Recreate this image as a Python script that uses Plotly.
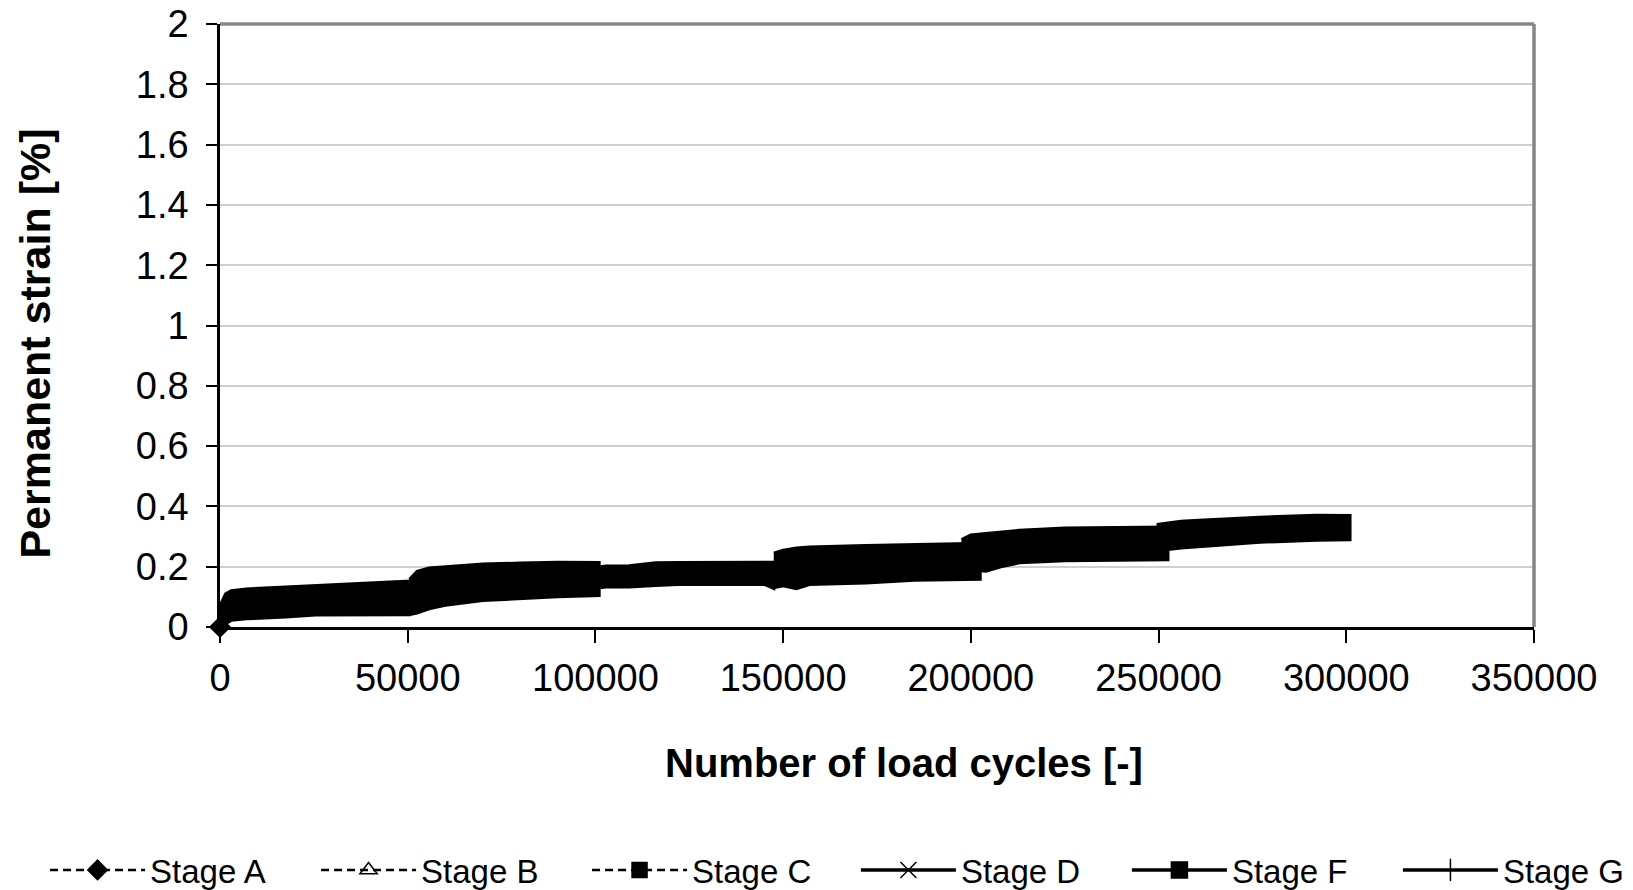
import plotly.graph_objects as go

# ---------------- data ----------------
stage_names = ["Stage A", "Stage B", "Stage C", "Stage D", "Stage F", "Stage G"]

# envelope of the dense marker band of each stage: cycles, upper and lower strain [%]
a_cycles = [0, 1500, 3000, 7000, 17500, 25500, 43000, 50500]
a_upper = [0.070, 0.110, 0.120, 0.126, 0.133, 0.138, 0.147, 0.152]
a_lower = [0.000, 0.012, 0.022, 0.027, 0.033, 0.040, 0.041, 0.041]
a_first_point = [0, 0.0]

b_cycles = [50500, 52500, 55700, 60000, 70000, 80000, 90000, 101000]
b_upper = [0.158, 0.185, 0.196, 0.200, 0.209, 0.212, 0.215, 0.214]
b_lower = [0.041, 0.046, 0.060, 0.072, 0.088, 0.095, 0.100, 0.104]

c_cycles = [101000, 103000, 109000, 116000, 122000, 135000, 145000, 147500]
c_upper = [0.200, 0.202, 0.203, 0.213, 0.214, 0.215, 0.215, 0.215]
c_lower = [0.130, 0.133, 0.133, 0.138, 0.141, 0.141, 0.141, 0.128]

d_cycles = [147500, 150000, 153500, 157000, 172000, 185000, 195000, 202500]
d_upper = [0.245, 0.255, 0.262, 0.265, 0.270, 0.273, 0.276, 0.278]
d_lower = [0.130, 0.137, 0.127, 0.141, 0.146, 0.155, 0.157, 0.158]

f_cycles = [197500, 200000, 204000, 208000, 213000, 225000, 240000, 252500]
f_upper = [0.290, 0.305, 0.310, 0.316, 0.321, 0.328, 0.330, 0.332]
f_lower = [0.200, 0.190, 0.185, 0.200, 0.213, 0.220, 0.222, 0.223]

g_cycles = [249500, 252500, 256000, 262000, 268000, 277000, 292000, 301000]
g_upper = [0.340, 0.345, 0.351, 0.355, 0.359, 0.364, 0.371, 0.370]
g_lower = [0.240, 0.257, 0.262, 0.268, 0.273, 0.281, 0.288, 0.289]

x_tick_values = [0, 50000, 100000, 150000, 200000, 250000, 300000, 350000]
x_tick_labels = ["0", "50000", "100000", "150000", "200000", "250000", "300000", "350000"]
y_tick_values = [0, 0.2, 0.4, 0.6, 0.8, 1.0, 1.2, 1.4, 1.6, 1.8, 2.0]
y_tick_labels = ["0", "0.2", "0.4", "0.6", "0.8", "1", "1.2", "1.4", "1.6", "1.8", "2"]

x_title = "Number of load cycles [-]"
y_title = "Permanent strain [%]"

# ---------------- styles ----------------
FONT = "Liberation Sans, Arial, sans-serif"
stage_envelopes = [
    (a_cycles, a_upper, a_lower),
    (b_cycles, b_upper, b_lower),
    (c_cycles, c_upper, c_lower),
    (d_cycles, d_upper, d_lower),
    (f_cycles, f_upper, f_lower),
    (g_cycles, g_upper, g_lower),
]
legend_styles = [
    dict(dash="8px,5px", width=2.5, symbol="diamond", size=15, legend="legend"),
    dict(dash="8px,5px", width=2.5, symbol="triangle-up-open", size=15, legend="legend"),
    dict(dash="8px,5px", width=2.5, symbol="square", size=15, legend="legend"),
    dict(dash="solid", width=3.5, symbol="x-thin-open", size=18, legend="legend2"),
    dict(dash="solid", width=3.5, symbol="square", size=17, legend="legend2"),
    dict(dash="solid", width=3.5, symbol="line-ns-open", size=24, legend="legend2"),
]

fig = go.Figure()

# dense data bands
for name, (cyc, up, lo) in zip(stage_names, stage_envelopes):
    fig.add_trace(go.Scatter(
        x=list(cyc) + list(cyc)[::-1],
        y=list(up) + list(lo)[::-1],
        mode="lines", fill="toself", fillcolor="black",
        line=dict(color="black", width=3),
        showlegend=False, hoverinfo="skip", name=name,
    ))

# first marker of stage A at the origin
fig.add_trace(go.Scatter(
    x=[a_first_point[0]], y=[a_first_point[1]], mode="markers",
    marker=dict(symbol="diamond", size=17, color="black"),
    cliponaxis=False, showlegend=False, hoverinfo="skip",
))

# legend entries
for name, st in zip(stage_names, legend_styles):
    fig.add_trace(go.Scatter(
        x=[None], y=[None], mode="lines+markers", name=name, legend=st["legend"],
        line=dict(color="black", width=st["width"], dash=st["dash"]),
        marker=dict(symbol=st["symbol"], size=st["size"], color="black",
                    line=dict(color="black", width=1.5)),
    ))

# the page body adds an 8 px offset, so the figure is 8 px smaller on each axis
W, H = 1625, 882
legend_common = dict(
    orientation="h", xref="container", yref="container",
    xanchor="left", y=0.0227, yanchor="middle",
    entrywidth=161, entrywidthmode="pixels", itemwidth=95,
    font=dict(size=33, family=FONT, color="black"),
    bgcolor="rgba(0,0,0,0)", tracegroupgap=0,
)

fig.update_layout(
    width=W, height=H,
    margin=dict(l=212, r=99, t=16, b=263, autoexpand=False),
    paper_bgcolor="white", plot_bgcolor="white",
    font=dict(family=FONT, color="black"),
    showlegend=True,
    legend=dict(x=0.0228, **legend_common),
    legend2=dict(x=0.5218, **legend_common),
    xaxis=dict(
        range=[0, 350000], tickvals=x_tick_values, ticktext=x_tick_labels,
        showgrid=False, zeroline=False,
        showline=True, linecolor="black", linewidth=2.5,
        ticks="outside", ticklen=13, tickwidth=2, tickcolor="black",
        ticklabelstandoff=3, ticklabeloverflow="allow",
        tickfont=dict(size=38, family=FONT, color="black"),
    ),
    yaxis=dict(
        range=[0, 2], tickvals=y_tick_values, ticktext=y_tick_labels,
        showgrid=True, gridcolor="#cfcfcf", gridwidth=2, zeroline=False,
        showline=True, linecolor="black", linewidth=2.5,
        ticks="outside", ticklen=11, tickwidth=2, tickcolor="black",
        ticklabelstandoff=10, ticklabeloverflow="allow",
        tickfont=dict(size=38, family=FONT, color="black"),
    ),
    shapes=[
        dict(type="line", xref="paper", yref="paper", x0=0, x1=1, y0=1, y1=1,
             line=dict(color="#868686", width=3.5)),
        dict(type="line", xref="paper", yref="paper", x0=1, x1=1, y0=0, y1=1,
             line=dict(color="#868686", width=3.5)),
    ],
    annotations=[
        dict(text="<b>" + x_title + "</b>", xref="paper", yref="paper",
             x=0.5205, y=-0.2255, xanchor="center", yanchor="middle", showarrow=False,
             font=dict(size=40, family=FONT, color="black")),
        dict(text="<b>" + y_title + "</b>", xref="paper", yref="paper",
             x=-0.1408, y=0.470, xanchor="center", yanchor="middle", showarrow=False,
             textangle=-90, font=dict(size=43, family=FONT, color="black")),
    ],
)

fig.write_html("out.html")
